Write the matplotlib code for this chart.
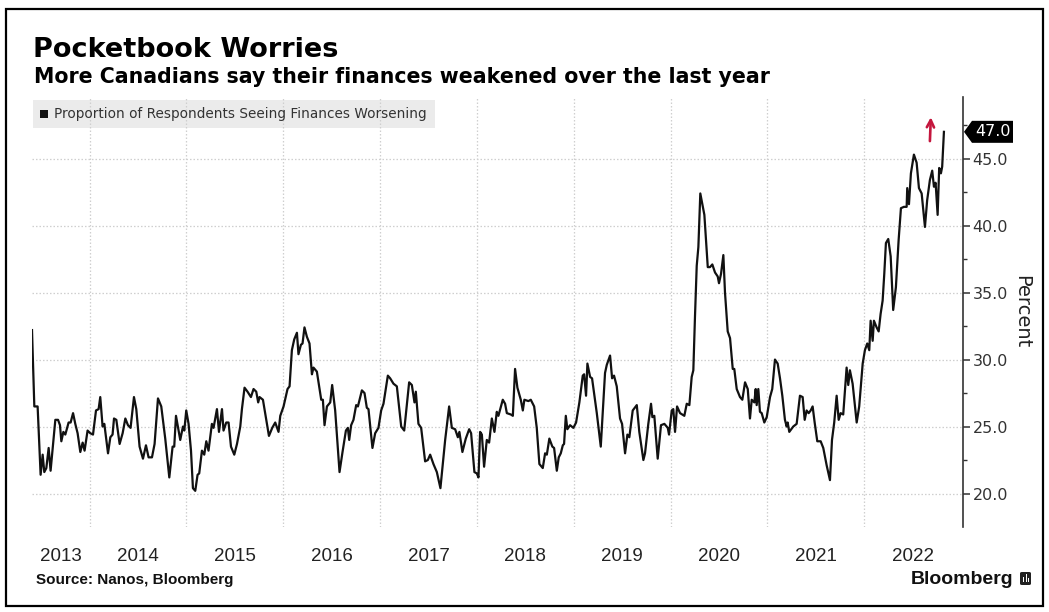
import matplotlib
matplotlib.use("Agg")
import matplotlib.pyplot as plt
from matplotlib.patches import Rectangle, Polygon, FancyBboxPatch
from matplotlib.transforms import IdentityTransform
import numpy as np

# Weekly survey readings: time as decimal year, share of respondents (%)
obs_time = [
    2013.405, 2013.429, 2013.463, 2013.494, 2013.515, 2013.532, 2013.553, 2013.577, 2013.597, 2013.646,
    2013.674, 2013.694, 2013.708, 2013.729, 2013.749, 2013.783, 2013.804, 2013.829, 2013.852, 2013.876,
    2013.904, 2013.928, 2013.948, 2013.979, 2014.007, 2014.035, 2014.066, 2014.093, 2014.110, 2014.134,
    2014.152, 2014.190, 2014.214, 2014.237, 2014.252, 2014.276, 2014.310, 2014.341, 2014.369, 2014.396,
    2014.423, 2014.458, 2014.482, 2014.516, 2014.551, 2014.582, 2014.609, 2014.644, 2014.671, 2014.706,
    2014.740, 2014.781, 2014.823, 2014.857, 2014.874, 2014.892, 2014.936, 2014.964, 2014.978, 2014.998,
    2015.022, 2015.047, 2015.067, 2015.091, 2015.115, 2015.132, 2015.160, 2015.184, 2015.205, 2015.228,
    2015.263, 2015.280, 2015.315, 2015.336, 2015.367, 2015.383, 2015.411, 2015.435, 2015.460, 2015.494,
    2015.522, 2015.556, 2015.573, 2015.600, 2015.631, 2015.666, 2015.693, 2015.721, 2015.741, 2015.755,
    2015.790, 2015.824, 2015.852, 2015.886, 2015.917, 2015.951, 2015.969, 2016.003, 2016.044, 2016.065,
    2016.089, 2016.113, 2016.141, 2016.157, 2016.182, 2016.199, 2016.219, 2016.244, 2016.271, 2016.296,
    2016.312, 2016.347, 2016.392, 2016.409, 2016.426, 2016.451, 2016.485, 2016.505, 2016.536, 2016.581,
    2016.612, 2016.647, 2016.667, 2016.681, 2016.701, 2016.725, 2016.753, 2016.771, 2016.812, 2016.839,
    2016.863, 2016.880, 2016.921, 2016.949, 2016.983, 2017.011, 2017.035, 2017.080, 2017.104, 2017.138,
    2017.173, 2017.218, 2017.249, 2017.300, 2017.328, 2017.355, 2017.369, 2017.396, 2017.424, 2017.465,
    2017.493, 2017.517, 2017.551, 2017.586, 2017.623, 2017.672, 2017.713, 2017.741, 2017.775, 2017.803,
    2017.819, 2017.850, 2017.885, 2017.920, 2017.940, 2017.974, 2017.999, 2018.016, 2018.033, 2018.051,
    2018.074, 2018.102, 2018.126, 2018.154, 2018.181, 2018.205, 2018.222, 2018.267, 2018.291, 2018.309,
    2018.350, 2018.371, 2018.394, 2018.418, 2018.453, 2018.474, 2018.490, 2018.532, 2018.556, 2018.591,
    2018.618, 2018.645, 2018.680, 2018.704, 2018.722, 2018.748, 2018.779, 2018.797, 2018.825, 2018.845,
    2018.866, 2018.887, 2018.900, 2018.918, 2018.934, 2018.962, 2018.996, 2019.024, 2019.058, 2019.093,
    2019.107, 2019.127, 2019.141, 2019.169, 2019.189, 2019.238, 2019.279, 2019.323, 2019.341, 2019.375,
    2019.396, 2019.416, 2019.444, 2019.478, 2019.499, 2019.530, 2019.554, 2019.574, 2019.609, 2019.651,
    2019.677, 2019.719, 2019.736, 2019.770, 2019.798, 2019.812, 2019.832, 2019.867, 2019.901, 2019.936,
    2019.971, 2019.984, 2020.012, 2020.028, 2020.046, 2020.067, 2020.098, 2020.142, 2020.167, 2020.194,
    2020.218, 2020.235, 2020.252, 2020.270, 2020.287, 2020.307, 2020.328, 2020.349, 2020.384, 2020.407,
    2020.431, 2020.459, 2020.487, 2020.500, 2020.521, 2020.545, 2020.562, 2020.590, 2020.614, 2020.642,
    2020.658, 2020.683, 2020.717, 2020.741, 2020.769, 2020.797, 2020.820, 2020.838, 2020.865, 2020.879,
    2020.889, 2020.906, 2020.923, 2020.941, 2020.968, 2020.993, 2021.027, 2021.050, 2021.078, 2021.106,
    2021.130, 2021.154, 2021.181, 2021.199, 2021.209, 2021.226, 2021.267, 2021.302, 2021.336, 2021.364,
    2021.385, 2021.405, 2021.426, 2021.447, 2021.467, 2021.488, 2021.515, 2021.550, 2021.577, 2021.612,
    2021.646, 2021.667, 2021.690, 2021.715, 2021.736, 2021.756, 2021.783, 2021.818, 2021.835, 2021.852,
    2021.880, 2021.922, 2021.948, 2021.984, 2022.007, 2022.031, 2022.052, 2022.066, 2022.087, 2022.100,
    2022.128, 2022.149, 2022.169, 2022.190, 2022.207, 2022.224, 2022.248, 2022.273, 2022.299, 2022.327,
    2022.355, 2022.379, 2022.410, 2022.438, 2022.444, 2022.462, 2022.482, 2022.513, 2022.541, 2022.565,
    2022.593, 2022.627, 2022.650, 2022.678, 2022.702, 2022.720, 2022.737, 2022.758, 2022.774, 2022.792,
    2022.805, 2022.823,
]
pct_worse = [
    32.2, 26.5, 26.5, 21.4, 22.9, 21.6, 21.9, 23.4, 21.7, 25.5,
    25.5, 25.1, 23.9, 24.6, 24.4, 25.3, 25.3, 26.0, 25.2, 24.5,
    23.1, 23.8, 23.2, 24.7, 24.5, 24.4, 26.2, 26.3, 27.2, 25.0,
    25.2, 23.0, 24.2, 24.4, 25.6, 25.5, 23.7, 24.5, 25.6, 25.1,
    24.9, 27.2, 26.3, 23.5, 22.6, 23.6, 22.7, 22.7, 23.7, 27.1,
    26.5, 24.1, 21.2, 23.5, 23.5, 25.8, 24.0, 25.0, 24.7, 26.2,
    25.2, 23.2, 20.4, 20.2, 21.4, 21.5, 23.2, 22.9, 23.9, 23.2,
    25.2, 24.9, 26.3, 24.6, 26.3, 24.7, 25.3, 25.3, 23.5, 22.9,
    23.7, 25.0, 26.3, 27.9, 27.6, 27.2, 27.8, 27.6, 26.8, 27.2,
    27.0, 25.5, 24.3, 24.9, 25.3, 24.6, 25.8, 26.5, 27.8, 28.0,
    30.7, 31.5, 32.0, 30.4, 31.1, 31.2, 32.4, 31.7, 31.2, 28.9,
    29.4, 29.1, 27.0, 27.0, 25.1, 26.5, 26.8, 28.1, 26.2, 21.6,
    23.1, 24.7, 24.9, 24.0, 25.1, 25.5, 26.6, 26.5, 27.7, 27.5,
    26.4, 26.3, 23.4, 24.5, 24.9, 26.2, 26.7, 28.8, 28.6, 28.2,
    28.0, 25.0, 24.7, 28.3, 28.1, 26.8, 27.6, 25.2, 24.9, 22.4,
    22.5, 22.9, 22.2, 21.6, 20.4, 24.0, 26.5, 24.9, 24.8, 24.2,
    24.6, 23.1, 24.1, 24.8, 24.5, 21.6, 21.5, 21.2, 24.6, 24.4,
    22.0, 24.0, 23.8, 25.6, 24.6, 26.1, 25.8, 27.0, 26.7, 26.0,
    25.9, 25.8, 29.3, 27.9, 27.0, 26.2, 27.0, 26.9, 27.0, 26.5,
    24.9, 22.2, 21.9, 23.0, 22.9, 24.1, 23.5, 23.4, 21.7, 22.7,
    23.0, 23.6, 23.7, 25.8, 24.8, 25.1, 24.9, 25.3, 26.8, 28.8,
    28.9, 27.3, 29.7, 28.7, 28.6, 26.0, 23.5, 29.0, 29.6, 30.3,
    28.6, 28.8, 28.0, 25.6, 25.2, 23.0, 24.4, 24.2, 26.2, 26.6,
    24.6, 22.5, 23.0, 25.2, 26.7, 25.7, 25.8, 22.6, 25.1, 25.2,
    24.9, 24.4, 26.2, 26.3, 24.6, 26.5, 26.0, 25.8, 26.7, 26.6,
    28.7, 29.2, 33.2, 37.0, 38.4, 42.4, 41.6, 40.8, 36.9, 36.9,
    37.1, 36.5, 36.2, 35.7, 36.4, 37.8, 35.0, 32.1, 31.6, 29.3,
    29.3, 27.8, 27.2, 27.0, 28.3, 27.8, 25.6, 27.0, 26.8, 27.8,
    26.6, 27.8, 26.1, 26.0, 25.3, 25.7, 27.2, 27.8, 30.0, 29.7,
    28.6, 27.3, 25.5, 25.0, 25.3, 24.6, 25.0, 25.2, 27.3, 27.2,
    25.5, 26.2, 26.0, 26.2, 26.5, 25.3, 23.9, 23.9, 23.4, 22.1,
    21.0, 24.0, 25.3, 27.3, 25.5, 26.0, 25.9, 29.4, 28.1, 29.2,
    28.2, 25.3, 26.5, 29.7, 30.7, 31.2, 30.7, 32.9, 31.4, 32.9,
    32.4, 32.1, 33.4, 34.4, 36.4, 38.7, 39.0, 37.7, 33.7, 35.4,
    38.9, 41.3, 41.4, 41.4, 42.8, 41.6, 43.9, 45.3, 44.7, 42.8,
    42.4, 39.9, 41.9, 43.4, 44.1, 42.9, 43.2, 40.8, 44.3, 43.9,
    44.4, 47.0,
]

series_name = "Proportion of Respondents Seeing Finances Worsening"
year_labels = ["2013", "2014", "2015", "2016", "2017", "2018", "2019", "2020", "2021", "2022"]
year_starts = [2014, 2015, 2016, 2017, 2018, 2019, 2020, 2021, 2022]
y_major = [20, 25, 30, 35, 40, 45]
y_minor = [22.5, 27.5, 32.5, 37.5, 42.5, 47.5]
latest_value = pct_worse[-1]

W, H = 1049, 612
fig = plt.figure(figsize=(W / 100, H / 100), dpi=100)
fig.patch.set_facecolor("white")


def fx(px):
    return px / W


def fy(py):
    return 1 - py / H


AX_L, AX_R, AX_T, AX_B = 32, 963, 97, 527
ax = fig.add_axes([fx(AX_L), fy(AX_B), fx(AX_R) - fx(AX_L), fy(AX_T) - fy(AX_B)])
ax.set_facecolor("white")

x_lo, x_hi = 2013.405, 2023.02
ax.set_xlim(x_lo, x_hi)
ax.set_ylim(17.5, 49.6)

ax.plot(obs_time, pct_worse, color="#111111", lw=1.6, solid_joinstyle="round", zorder=3)

for side in ("top", "left", "bottom"):
    ax.spines[side].set_visible(False)
ax.spines["right"].set_color("#333333")
ax.spines["right"].set_linewidth(1.2)

# right-hand value axis
ax.yaxis.tick_right()
ax.set_yticks(y_major)
ax.set_yticklabels([f"{v:.1f}" for v in y_major])
ax.set_yticks(y_minor, minor=True)
ax.tick_params(axis="y", which="major", length=5, width=1.1, color="#333333",
               labelsize=11.5, labelcolor="#333333", pad=2)
ax.tick_params(axis="y", which="minor", length=3, width=1.0, color="#333333")
for lab in ax.get_yticklabels():
    lab.set_family("DejaVu Sans")

# year labels centred in each year, grid at year boundaries
label_pos = [(x_lo + 2014) / 2] + [y + 0.5 for y in range(2014, 2023)]
ax.set_xticks(label_pos)
ax.set_xticklabels(year_labels)
ax.set_xticks(year_starts, minor=True)
ax.tick_params(axis="x", which="both", length=0, pad=15, labelsize=13.5, labelcolor="#222222")
for lab in ax.get_xticklabels():
    lab.set_family("Liberation Sans")

grid_kw = dict(color="#cfcfcf", linestyle=(0, (1.2, 1.6)), linewidth=0.9)
ax.grid(False)
ax.xaxis.grid(True, which="minor", **grid_kw)
ax.yaxis.grid(True, which="major", **grid_kw)


def ax_x(px):
    return (px - AX_L) / (AX_R - AX_L)


def ax_y(py):
    return (AX_B - py) / (AX_B - AX_T)


# legend strip
ax.add_patch(Rectangle((ax_x(33), ax_y(128)), ax_x(435) - ax_x(33), ax_y(100) - ax_y(128),
                       transform=ax.transAxes, facecolor="#ebebeb", edgecolor="none", zorder=1))
ax.add_patch(Rectangle((ax_x(40), ax_y(118)), ax_x(48) - ax_x(40), ax_y(110) - ax_y(118),
                       transform=ax.transAxes, facecolor="#111111", edgecolor="none", zorder=4))
ax.text(ax_x(54), ax_y(114), series_name, transform=ax.transAxes, va="center", ha="left",
        fontsize=9.8, color="#333333", zorder=4)

# red up arrow near the latest reading
ax.annotate("", xy=(2022.689, 48.3), xytext=(2022.677, 46.1),
            arrowprops=dict(arrowstyle="->", color="#c4163d", lw=1.9, mutation_scale=13))

# latest value tag on the axis
fig.canvas.draw()
tip_x, tip_y = ax.transData.transform((x_hi, latest_value))
tip_x += 1
tag = Polygon([(tip_x, tip_y), (tip_x + 8, tip_y + 11), (tip_x + 49, tip_y + 11),
               (tip_x + 49, tip_y - 11), (tip_x + 8, tip_y - 11)], closed=True,
              transform=IdentityTransform(), facecolor="#000000", edgecolor="none", zorder=10)
fig.add_artist(tag)
fig.text(tip_x + 28.5, tip_y, f"{latest_value:.1f}", transform=IdentityTransform(),
         ha="center", va="center", fontsize=11.5, color="white", zorder=11)

# axis unit
fig.text(fx(1022), fy(312), "Percent", rotation=270, ha="center", va="center",
         fontsize=14, color="#222222")

# headings
fig.text(fx(33), fy(57), "Pocketbook Worries", ha="left", va="baseline",
         fontsize=19.5, fontweight="bold", color="#000000")
fig.text(fx(34), fy(83), "More Canadians say their finances weakened over the last year",
         ha="left", va="baseline", fontsize=14.8, fontweight="bold", color="#000000")

# footer
fig.text(fx(36), fy(580), "Source: Nanos, Bloomberg", ha="left", va="center",
         fontsize=11, fontweight="bold", family="Liberation Sans", color="#111111")
fig.text(fx(1013), fy(579), "Bloomberg", ha="right", va="center",
         fontsize=14, fontweight="bold", family="Liberation Sans", color="#111111")
icon = FancyBboxPatch((fx(1020), fy(585)), fx(1031) - fx(1020), fy(572) - fy(585),
                      boxstyle="round,pad=0,rounding_size=0.002", transform=fig.transFigure,
                      facecolor="#222222", edgecolor="none")
fig.add_artist(icon)
for bx, bh in ((1023, 5), (1025.5, 8), (1028, 4)):
    fig.add_artist(Rectangle((fx(bx), fy(582)), fx(1.3), fy(582 - bh) - fy(582),
                             transform=fig.transFigure, facecolor="white", edgecolor="none"))

# outer frame
fig.add_artist(Rectangle((fx(6), fy(606)), fx(1043) - fx(6), fy(9) - fy(606),
                         transform=fig.transFigure, fill=False, edgecolor="#000000", linewidth=1.6))

fig.savefig("out.png", dpi=100, facecolor="white")
